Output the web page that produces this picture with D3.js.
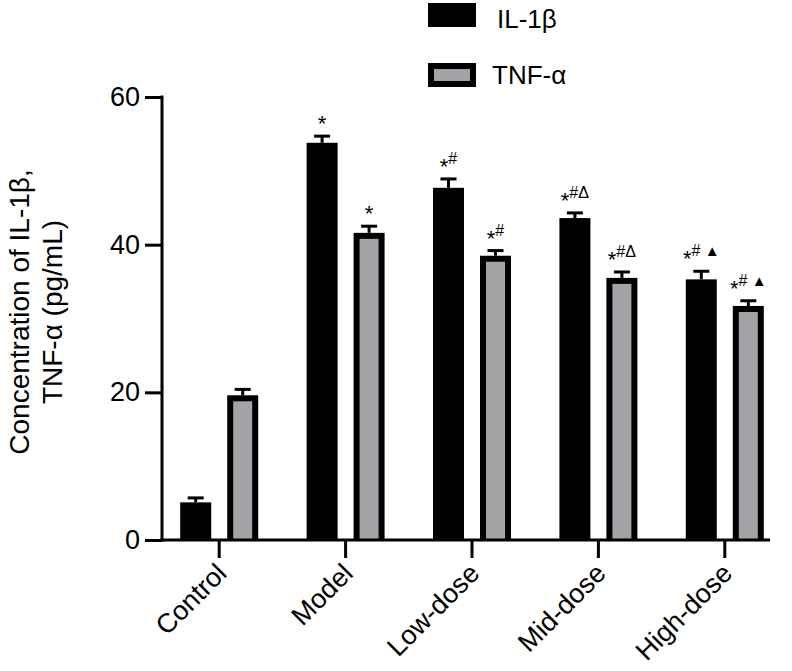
<!DOCTYPE html>
<html>
<head>
<meta charset="utf-8">
<script src="https://cdn.jsdelivr.net/npm/d3@7/dist/d3.min.js"></script>
<style>
  html, body { margin: 0; padding: 0; background: #fff; }
  svg { display: block; font-family: "Liberation Sans", Arial, Helvetica, sans-serif; }
</style>
</head>
<body>
<svg id="chart" width="792" height="671"></svg>
<script>
const categories = ["Control", "Model", "Low-dose", "Mid-dose", "High-dose"];
const seriesNames = ["IL-1\u03b2", "TNF-\u03b1"];
const il1b = [5.1, 53.8, 47.7, 43.6, 35.3];
const il1bErr = [0.6, 0.9, 1.2, 0.7, 1.1];
const tnfa = [19.6, 41.6, 38.5, 35.5, 31.7];
const tnfaErr = [0.8, 0.9, 0.7, 0.8, 0.7];
const il1bMarks = ["", "*", "*#", "*#\u0394", "*# \u25b2"];
const tnfaMarks = ["", "*", "*#", "*#\u0394", "*# \u25b2"];
const yTicks = [0, 20, 40, 60];
const yTitle = ["Concentration of IL-1\u03b2,", "TNF-\u03b1 (pg/mL)"];

const GRAY = "#a3a3a7";
const svg = d3.select("#chart");

const y = d3.scaleLinear().domain([0, 60]).range([540, 97]);
const x0 = d3.scaleBand().domain(categories).range([156, 788]).paddingInner(0).paddingOuter(0);
const half = x0.bandwidth() / 2;
const x1 = d3.scaleBand().domain(seriesNames).range([half - 47, half + 47])
  .paddingInner(16 / 47).paddingOuter(8 / 47);

const rows = categories.map((c, i) => ({
  cat: c,
  bars: [
    { s: seriesNames[0], v: il1b[i], e: il1bErr[i], m: il1bMarks[i] },
    { s: seriesNames[1], v: tnfa[i], e: tnfaErr[i], m: tnfaMarks[i] }
  ]
}));

const groups = svg.append("g").selectAll("g").data(rows).join("g")
  .attr("transform", d => `translate(${x0(d.cat)},0)`);

const bw = x1.bandwidth();
const border = 6;

groups.each(function(d) {
  const g = d3.select(this);
  d.bars.forEach((b, j) => {
    const bx = x1(b.s);
    const top = y(b.v);
    g.append("rect").attr("x", bx).attr("y", top).attr("width", bw)
      .attr("height", y(0) - top).attr("fill", "#000");
    if (j === 1) {
      g.append("rect").attr("x", bx + border).attr("y", top + border)
        .attr("width", bw - 2 * border).attr("height", y(0) - top - border)
        .attr("fill", GRAY);
    }
    const cx = bx + bw / 2;
    const capY = y(b.v + b.e);
    g.append("line").attr("x1", cx).attr("x2", cx).attr("y1", top).attr("y2", capY)
      .attr("stroke", "#000").attr("stroke-width", 3);
    g.append("line").attr("x1", cx - 8).attr("x2", cx + 8).attr("y1", capY).attr("y2", capY)
      .attr("stroke", "#000").attr("stroke-width", 3);
    if (b.m) {
      const t = g.append("text").attr("x", cx).attr("y", capY - 15)
        .attr("text-anchor", "middle").attr("fill", "#000");
      const chars = Array.from(b.m);
      chars.forEach((ch, k) => {
        const ts = t.append("tspan").text(ch);
        if (ch === "*") {
          ts.attr("font-size", 22).attr("dy", 10);
        } else {
          ts.attr("font-size", ch === "\u25b2" ? 15 : 16);
          if (k === 1) ts.attr("dy", -10);
        }
      });
    }
  });
});

// Y axis
const yAxis = d3.axisLeft(y).tickValues(yTicks).tickSize(17).tickPadding(5).tickFormat(d3.format("d"));
const yg = svg.append("g").attr("transform", "translate(162,0)").call(yAxis);
yg.select(".domain").remove();
yg.selectAll(".tick line").attr("stroke", "#000").attr("stroke-width", 3);
yg.selectAll(".tick text").attr("font-size", 27).attr("fill", "#000")
  .attr("font-family", "Liberation Sans, Arial, sans-serif");
svg.append("line").attr("x1", 162).attr("x2", 162).attr("y1", y(60) - 1.5).attr("y2", y(0) + 1.5)
  .attr("stroke", "#000").attr("stroke-width", 3);

// X axis
const xAxis = d3.axisBottom(x0).tickSize(18).tickFormat("");
const xg = svg.append("g").attr("transform", `translate(0,${y(0)})`).call(xAxis);
xg.select(".domain").remove();
xg.selectAll(".tick line").attr("stroke", "#000").attr("stroke-width", 3);
svg.append("line").attr("x1", 160.5).attr("x2", 770).attr("y1", y(0)).attr("y2", y(0))
  .attr("stroke", "#000").attr("stroke-width", 3);

svg.append("g").selectAll("text").data(categories).join("text")
  .attr("transform", d => `translate(${x0(d) + half + 9},575) rotate(-45)`)
  .attr("text-anchor", "end").attr("font-size", 27).attr("fill", "#000")
  .text(d => d);

// Y title
svg.append("g").attr("transform", "translate(0,312)")
  .selectAll("text").data(yTitle).join("text")
  .attr("transform", (d, i) => `translate(${29 + i * 33},0) rotate(-90)`)
  .attr("text-anchor", "middle").attr("font-size", 28).attr("fill", "#000")
  .text(d => d);

// Legend
const leg = svg.append("g");
leg.append("rect").attr("x", 428).attr("y", 3).attr("width", 48).attr("height", 24).attr("fill", "#000");
leg.append("rect").attr("x", 428).attr("y", 63).attr("width", 48).attr("height", 24).attr("fill", "#000");
leg.append("rect").attr("x", 434).attr("y", 69).attr("width", 36).attr("height", 12).attr("fill", GRAY);
leg.append("text").attr("x", 497).attr("y", 28).attr("font-size", 26).text(seriesNames[0]);
leg.append("text").attr("x", 492).attr("y", 84).attr("font-size", 26).text(seriesNames[1]);
</script>
</body>
</html>
